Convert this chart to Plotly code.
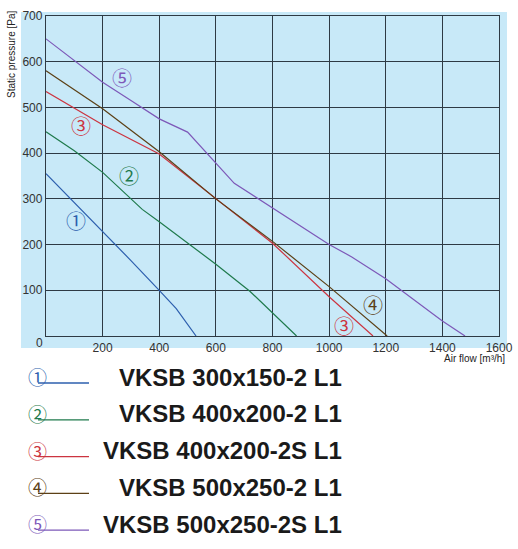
import plotly.graph_objects as go

# ---- data ----
names = ["VKSB 300x150-2 L1", "VKSB 400x200-2 L1", "VKSB 400x200-2S L1",
         "VKSB 500x250-2 L1", "VKSB 500x250-2S L1"]
marks = ["①", "②", "③", "④", "⑤"]
colors = ["#2d5fae", "#1f7a4c", "#cc3440", "#5c4016", "#7d58b8"]

x1 = [0, 100, 200, 300, 400, 460, 530]
y1 = [355, 292, 228, 165, 100, 60, 0]

x2 = [0, 100, 200, 340, 400, 600, 720, 885]
y2 = [447, 405, 358, 277, 250, 157, 98, 0]

x3 = [0, 200, 400, 600, 800, 1000, 1155]
y3 = [535, 462, 398, 300, 203, 86, 0]

x4 = [0, 200, 400, 600, 800, 1000, 1205]
y4 = [580, 497, 403, 300, 207, 108, 0]

x5 = [0, 100, 200, 300, 400, 500, 560, 610, 665, 1000, 1080, 1200, 1400, 1480]
y5 = [650, 603, 555, 515, 475, 446, 405, 370, 334, 200, 173, 125, 33, 0]

series_x = [x1, x2, x3, x4, x5]
series_y = [y1, y2, y3, y4, y5]

# in-chart curve labels (index, x, y)
curve_labels = [(0, 106, 252), (1, 294, 352), (2, 124, 460), (4, 270, 565),
                (3, 1156, 70), (2, 1053, 24)]

x_ticks = [200, 400, 600, 800, 1000, 1200, 1400, 1600]
y_ticks = [100, 200, 300, 400, 500, 600, 700]

# ---- layout geometry ----
W, H = 518, 549
L, R, T, B = 46, 19, 16, 213
pw = W - L - R
ph = H - T - B


def px(x):
    return (x - L) / pw


def py(y):
    return (H - B - y) / ph


bg = "#c8e9f8"
grid = "#2e3a44"
circ_font = "Noto Sans CJK SC"
tick_font = dict(family="Liberation Sans", size=12, color="#333")

fig = go.Figure()
for i in range(5):
    fig.add_trace(go.Scatter(x=series_x[i], y=series_y[i], mode="lines",
                             line=dict(color=colors[i], width=1.2),
                             name=names[i], showlegend=False, hoverinfo="skip"))

shapes = [dict(type="rect", xref="paper", yref="paper", x0=px(21), x1=px(507),
               y0=py(348), y1=py(12), fillcolor=bg, line=dict(width=0), layer="below")]
annotations = []

for idx, xv, yv in curve_labels:
    annotations.append(dict(x=xv, y=yv, xref="x", yref="y", text=marks[idx], showarrow=False,
                            font=dict(family=circ_font, size=20, color=colors[idx])))

for k in range(5):
    rowc = 377 + 36.8 * k
    annotations.append(dict(x=px(344), y=py(rowc), xref="paper", yref="paper",
                            text="<b>" + names[k] + "</b>",
                            showarrow=False, xanchor="right", yanchor="middle",
                            font=dict(family="Liberation Sans", size=24, color="#1a1a1a")))
    annotations.append(dict(x=px(37), y=py(rowc - 0.5), xref="paper", yref="paper", text=marks[k],
                            showarrow=False, xanchor="center", yanchor="middle",
                            font=dict(family=circ_font, size=19, color=colors[k])))
    shapes.append(dict(type="line", xref="paper", yref="paper", x0=px(38), x1=px(89),
                       y0=py(rowc + 6), y1=py(rowc + 6), line=dict(color=colors[k], width=1.3)))

# corner "0" label (shared origin label as in the reference)
annotations.append(dict(x=px(39), y=py(343), xref="paper", yref="paper", text="0",
                        showarrow=False, xanchor="center", yanchor="middle", font=tick_font))

annotations.append(dict(x=px(12), y=py(55), xref="paper", yref="paper", text="Static pressure [Pa]",
                        textangle=-90, showarrow=False, xanchor="center", yanchor="middle",
                        font=dict(family="Liberation Sans", size=10, color="#222")))
annotations.append(dict(x=px(507), y=py(358), xref="paper", yref="paper", text="Air flow [m³/h]",
                        showarrow=False, xanchor="right", yanchor="middle",
                        font=dict(family="Liberation Sans", size=10, color="#222")))

axis_common = dict(showgrid=True, gridcolor=grid, gridwidth=1.3,
                   showline=True, linecolor=grid, linewidth=1.3, mirror=True, zeroline=False,
                   ticks="", tickfont=tick_font,
                   fixedrange=True, automargin=False)

fig.update_layout(
    width=W, height=H,
    margin=dict(l=L, r=R, t=T, b=B, pad=0, autoexpand=False),
    paper_bgcolor="white", plot_bgcolor=bg,
    shapes=shapes, annotations=annotations,
    showlegend=False,
    xaxis=dict(range=[0, 1600], tickvals=x_ticks, ticklabelstandoff=0, **axis_common),
    yaxis=dict(range=[0, 700], tickvals=y_ticks, ticklabelstandoff=0, **axis_common),
)

fig.write_html("out.html", config={"displayModeBar": False},
               post_script="document.body.style.margin='0';document.body.style.overflow='hidden';")
